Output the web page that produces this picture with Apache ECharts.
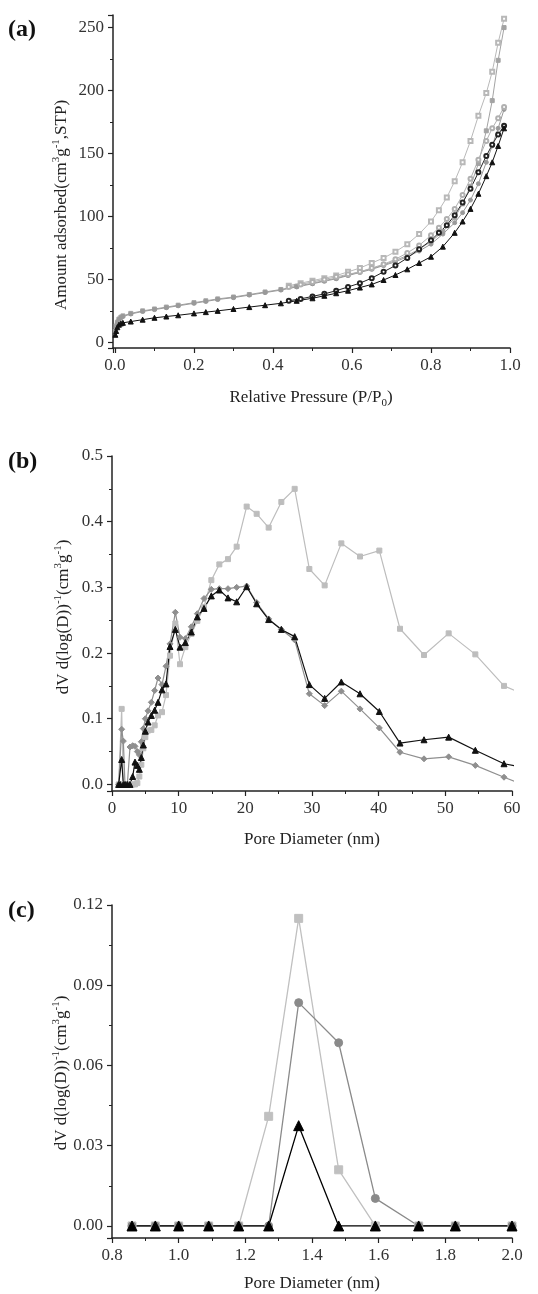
<!DOCTYPE html>
<html>
<head>
<meta charset="utf-8">
<title>Isotherms and pore size distribution</title>
<script src="https://cdn.jsdelivr.net/npm/echarts@6/dist/echarts.min.js"></script>
<style>
  html, body { margin: 0; padding: 0; background: #fff; }
  #chart { width: 538px; height: 1294px; }
</style>
</head>
<body>
<div id="chart"></div>
<script>
// (a) N2 isotherms, adsorption / desorption branches
const adsPressure = [0.001, 0.003, 0.006, 0.01, 0.015, 0.02, 0.04, 0.07, 0.1, 0.13, 0.16, 0.2, 0.23, 0.26, 0.3, 0.34, 0.38, 0.42, 0.46, 0.5, 0.53, 0.56, 0.59, 0.62, 0.65, 0.68, 0.71, 0.74, 0.77, 0.8, 0.83, 0.86, 0.88, 0.9, 0.92, 0.94, 0.955, 0.97, 0.985];
const squareAds = [9, 13, 16, 18.5, 20, 21, 23, 25, 26.5, 28, 29.5, 31.5, 33, 34.5, 36, 38, 40, 42, 44.5, 47, 49, 51, 53.5, 56, 58.5, 61.5, 65, 69, 74, 80, 88, 99, 110, 124, 142, 168, 192, 224, 250];
const circleAds = [8, 12, 15.5, 18, 19.5, 20.5, 22.5, 24.5, 26, 27.5, 29, 31, 32.5, 34, 35.5, 37.5, 39.5, 41.5, 44, 46.5, 48.5, 50.5, 53, 55.5, 58, 61, 64, 68, 72.5, 78, 86, 95, 103, 113, 126, 143, 156, 170, 185];
const triangleAds = [6, 9, 12, 14, 15, 15.5, 16.5, 18, 19.5, 20.5, 21.5, 23, 24, 25, 26.5, 28, 29.5, 31, 33, 35, 37, 39, 41, 43.5, 46, 49.5, 53.5, 58, 63, 68, 76, 87, 96, 106, 118, 132, 143, 156, 170];
const desPressure = [0.985, 0.97, 0.955, 0.94, 0.92, 0.9, 0.88, 0.86, 0.84, 0.82, 0.8, 0.77, 0.74, 0.71, 0.68, 0.65, 0.62, 0.59, 0.56, 0.53, 0.5, 0.47, 0.44];
const squareDes = [257, 238, 215, 198, 180, 160, 143, 128, 115, 105, 96, 86, 78, 72, 67, 63, 59, 56, 53, 51, 49, 47, 45];
const circleDes = [187, 178, 170, 160, 145, 130, 117, 106, 98, 91, 85, 77, 71, 66, 62, 59, 56, 54, 52, 50, 48, 46, 44];
const triangleDes = [172, 165, 157, 148, 135, 122, 111, 101, 93, 87, 81, 74, 67, 61, 56, 51, 47, 44, 41, 38.5, 36.5, 34.5, 33];

// (b) BJH pore size distribution
const poreDiam = [1.0, 1.2, 1.45, 1.7, 1.95, 2.3, 2.7, 3.1, 3.45, 3.8, 4.1, 4.4, 4.7, 5.0, 5.4, 5.9, 6.4, 6.9, 7.5, 8.1, 8.7, 9.5, 10.2, 11.0, 11.9, 12.8, 13.8, 14.9, 16.1, 17.4, 18.7, 20.2, 21.7, 23.5, 25.4, 27.4, 29.6, 31.9, 34.4, 37.2, 40.1, 43.2, 46.8, 50.5, 54.5, 58.8, 63.5];
const squarePsd = [0, 0, 0.115, 0, 0, 0, 0, 0, 0, 0.002, 0.012, 0.03, 0.055, 0.072, 0.082, 0.083, 0.09, 0.105, 0.11, 0.136, 0.196, 0.245, 0.183, 0.209, 0.229, 0.249, 0.27, 0.311, 0.335, 0.343, 0.362, 0.423, 0.412, 0.391, 0.43, 0.45, 0.328, 0.303, 0.367, 0.347, 0.356, 0.237, 0.197, 0.23, 0.198, 0.15, 0.13];
const diamondPsd = [0, 0, 0.084, 0.066, 0, 0, 0.057, 0.059, 0.058, 0.05, 0.045, 0.065, 0.085, 0.1, 0.112, 0.125, 0.143, 0.162, 0.152, 0.18, 0.214, 0.262, 0.224, 0.222, 0.24, 0.26, 0.283, 0.297, 0.298, 0.298, 0.3, 0.302, 0.277, 0.252, 0.236, 0.22, 0.138, 0.12, 0.142, 0.115, 0.086, 0.049, 0.039, 0.042, 0.029, 0.011, -0.008];
const trianglePsd = [0, 0, 0.038, 0, 0, 0, 0, 0.012, 0.034, 0.029, 0.023, 0.041, 0.06, 0.081, 0.095, 0.105, 0.113, 0.125, 0.144, 0.153, 0.21, 0.236, 0.209, 0.216, 0.232, 0.255, 0.268, 0.287, 0.296, 0.284, 0.278, 0.301, 0.275, 0.251, 0.236, 0.225, 0.152, 0.131, 0.156, 0.138, 0.111, 0.063, 0.068, 0.072, 0.052, 0.0315, 0.022];

// (c) micropore region
const microDiam = [0.86, 0.93, 1.0, 1.09, 1.18, 1.27, 1.36, 1.48, 1.59, 1.72, 1.83, 2.0];
const squareMicro = [0, 0, 0, 0, 0, 0.041, 0.115, 0.021, 0, 0, 0, 0];
const circleMicro = [0, 0, 0, 0, 0, 0, 0.0835, 0.0685, 0.0103, 0, 0, 0];
const triangleMicro = [0, 0, 0, 0, 0, 0, 0.0375, 0, 0, 0, 0, 0];

const FONT = 'Liberation Serif';
const zip = (xs, ys) => xs.map((x, i) => [x, ys[i]]);

// showMin: the axis min sits on a real tick (0, 0.8), so its label is wanted
function axis(extra, digits, showMin) {
  return Object.assign({
    type: 'value',
    axisLine: { show: true, onZero: false, lineStyle: { color: '#222', width: 1.5 } },
    axisTick: { show: true, inside: false, length: 5, lineStyle: { color: '#222', width: 1.2 } },
    minorTick: { show: true, splitNumber: 2, length: 3, lineStyle: { color: '#222', width: 1 } },
    splitLine: { show: false },
    axisLabel: {
      color: '#333', fontFamily: FONT, fontSize: 17, margin: 9,
      showMinLabel: !!showMin,
      formatter: v => v.toFixed(digits)
    }
  }, extra);
}

function line(name, data, xi, color, symbol, size, width) {
  return {
    name: name, type: 'line', data: data,
    xAxisIndex: xi, yAxisIndex: xi,
    symbol: symbol, symbolSize: size, showAllSymbol: true,
    lineStyle: { color: color, width: width },
    itemStyle: { color: color, borderColor: color, borderWidth: 1 }
  };
}

const richText = {
  sup: { fontSize: 11, fontFamily: FONT, verticalAlign: 'top', lineHeight: 22, fill: '#222' },
  sub: { fontSize: 11, fontFamily: FONT, verticalAlign: 'bottom', lineHeight: 22, fill: '#222' },
  n: { fontSize: 17, fontFamily: FONT, verticalAlign: 'middle', lineHeight: 22, fill: '#222' }
};

function title(text, x, y, vertical) {
  return {
    type: 'text', x: x, y: y, rotation: vertical ? Math.PI / 2 : 0,
    style: { text: text, rich: richText, align: 'center', verticalAlign: 'middle', fill: '#222' }
  };
}

function panelTag(text, y) {
  return {
    type: 'text', x: 8, y: y,
    style: { text: text, font: 'bold 24px "Liberation Serif"', fill: '#111', verticalAlign: 'middle' }
  };
}

const chart = echarts.init(document.getElementById('chart'));

chart.setOption({
  animation: false,
  textStyle: { fontFamily: FONT },
  grid: [
    { left: 113, right: 28, top: 15, height: 333 },
    { left: 112, right: 26, top: 456, height: 335 },
    { left: 112, right: 26, top: 905, height: 333 }
  ],
  xAxis: [
    axis({ gridIndex: 0, min: -0.005, max: 1.0, splitNumber: 5 }, 1),
    axis({ gridIndex: 1, min: 0, max: 60, interval: 10 }, 0, true),
    axis({ gridIndex: 2, min: 0.8, max: 2.0, interval: 0.2 }, 1, true)
  ],
  yAxis: [
    axis({ gridIndex: 0, min: -4.5, max: 260, splitNumber: 5 }, 0),
    axis({ gridIndex: 1, min: -0.01, max: 0.5, splitNumber: 5 }, 1),
    axis({ gridIndex: 2, min: -0.0045, max: 0.12, splitNumber: 4 }, 2)
  ],
  series: [
    line('squares ads', zip(adsPressure, squareAds), 0, '#a3a3a3', 'rect', 4, 1),
    line('squares des', zip(desPressure, squareDes), 0, '#b8b8b8', 'emptyRect', 4, 1),
    line('circles ads', zip(adsPressure, circleAds), 0, '#999999', 'circle', 4, 1),
    line('circles des', zip(desPressure, circleDes), 0, '#b0b0b0', 'emptyCircle', 4, 1),
    line('triangles des', zip(desPressure, triangleDes), 0, '#222222', 'emptyCircle', 4, 1),
    line('triangles ads', zip(adsPressure, triangleAds), 0, '#111111', 'triangle', 5, 1),

    line('squares', zip(poreDiam, squarePsd), 1, '#bdbdbd', 'rect', 5, 1.2),
    line('diamonds', zip(poreDiam, diamondPsd), 1, '#8f8f8f', 'diamond', 6, 1.2),
    line('triangles', zip(poreDiam, trianglePsd), 1, '#111111', 'triangle', 6, 1.2),

    line('squares', zip(microDiam, squareMicro), 2, '#c0c0c0', 'rect', 8, 1.3),
    line('circles', zip(microDiam, circleMicro), 2, '#8a8a8a', 'circle', 8, 1.3),
    line('triangles', zip(microDiam, triangleMicro), 2, '#000000', 'triangle', 10, 1.3)
  ],
  graphic: [
    panelTag('(a)', 30),
    panelTag('(b)', 462),
    panelTag('(c)', 911),
    title('{n|Amount adsorbed(cm}{sup|3}{n|g}{sup|-1}{n|,STP)}', 62, 205, true),
    title('{n|Relative Pressure (P/P}{sub|0}{n|)}', 311, 398, false),
    title('{n|dV d(log(D))}{sup|-1}{n|(cm}{sup|3}{n|g}{sup|-1}{n|)}', 64, 617, true),
    title('{n|Pore Diameter (nm)}', 312, 840, false),
    title('{n|dV d(log(D))}{sup|-1}{n|(cm}{sup|3}{n|g}{sup|-1}{n|)}', 62, 1073, true),
    title('{n|Pore Diameter (nm)}', 312, 1284, false)
  ]
});
</script>
</body>
</html>
